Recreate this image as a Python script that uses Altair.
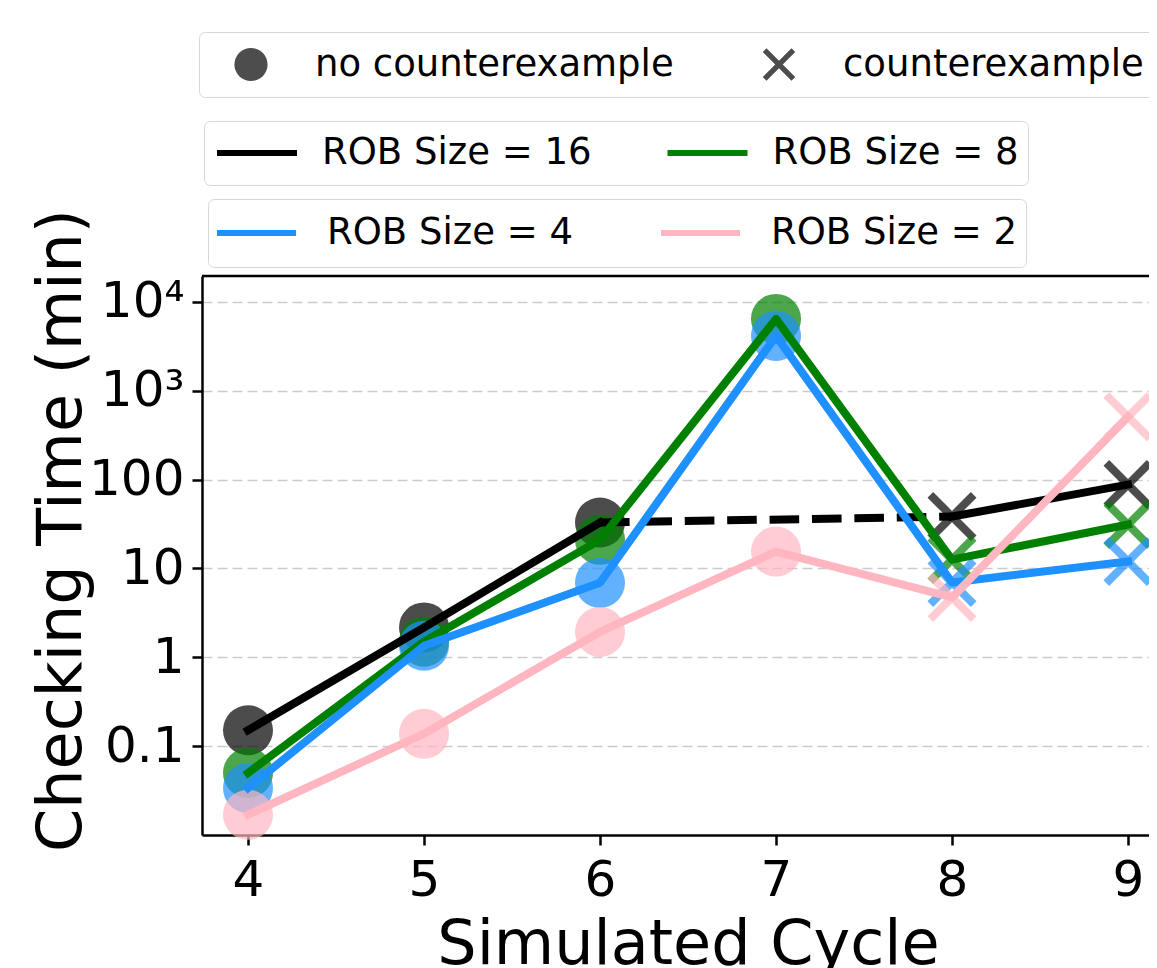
import altair as alt
import pandas as pd

# ---------------- data ----------------
cycles = [4, 5, 6, 7, 8, 9]
rob16 = [0.151, 2.17, 32.9, None, 38.4, 87.9]
rob8 = [0.050, 1.50, 21.0, 6440, 12.6, 31.2]
rob4 = [0.0337, 1.35, 6.9, 4150, 6.96, 12.0]
rob2 = [0.0169, 0.138, 1.93, 15.5, 4.72, 510]
outcome = ["no counterexample"] * 4 + ["counterexample"] * 2

rob_labels = ["ROB Size = 16", "ROB Size = 8", "ROB Size = 4", "ROB Size = 2"]
rob_colors = ["#000000", "#008000", "#1E90FF", "#FFB6C1"]
shape_labels = ["no counterexample", "counterexample"]
y_ticks = [0.1, 1, 10, 100, 1000, 10000]
x_ticks = [4, 5, 6, 7, 8, 9]

# ---------------- layout constants ----------------
W, H = 947, 559
FONT = "DejaVu Sans"
XPATH = ("M0.98,0.754L0.226,0L0.98,-0.754L0.754,-0.98L0,-0.226L-0.754,-0.98"
         "L-0.98,-0.754L-0.226,0L-0.98,0.754L-0.754,0.98L0,0.226L0.754,0.98Z")

series = list(zip(rob_labels, rob_colors, [rob16, rob8, rob4, rob2]))

# points table (drawn in order 16, 8, 4, 2)
prow = []
for lab, col, vals in series:
    for x, v, o in zip(cycles, vals, outcome):
        if v is not None:
            prow.append({"x": x, "y": v, "outcome": o, "pcolor": col, "rob": lab})
pts_df = pd.DataFrame(prow)


def line_df(lab, vals):
    rows = []
    for x, v in zip(cycles, vals):
        if v is not None:
            rows.append({"x": x, "y": v, "rob": lab, "seg": "a" if x <= 6 else "b"})
    return pd.DataFrame(rows)


df16 = line_df(rob_labels[0], rob16)
df8 = line_df(rob_labels[1], rob8)
df4 = line_df(rob_labels[2], rob4)
df2 = line_df(rob_labels[3], rob2)
dash_df = pd.DataFrame({"x": [6, 8], "y": [rob16[2], rob16[4]]})

# ---------------- scales / axes ----------------
xscale = alt.Scale(domain=[3.7386, 9.1193], nice=False, zero=False)
yscale = alt.Scale(type="log", domain=[0.01, 19590], nice=False)

axis_common = dict(
    labelFont=FONT, titleFont=FONT, labelFontSize=50, titleFontSize=62,
    titleFontWeight="normal", labelColor="black", titleColor="black",
    domainColor="black", domainWidth=2.5, tickColor="black", tickWidth=2.5,
    tickSize=10, titleAlign="center", titleBaseline="alphabetic",
    labelOverlap=False, labelFlush=False,
)
xaxis = alt.Axis(values=x_ticks, format="d", title="Simulated Cycle", grid=False,
                 labelPadding=10, titleX=486, titleY=128, **axis_common)
yaxis = alt.Axis(
    values=y_ticks,
    labelExpr="datum.value >= 5000 ? '10\u2074' : datum.value >= 500 ? '10\u00b3' : "
              "datum.value < 0.5 ? '0.1' : format(datum.value, 'd')",
    title="Checking Time (min)", grid=True, gridDash=[10, 5], gridColor="#cccccc",
    gridWidth=1.5, labelPadding=8, titleX=-122, titleY=254, titleAngle=270,
    **axis_common)

X = alt.X("x:Q", scale=xscale, axis=xaxis)
Y = alt.Y("y:Q", scale=yscale, axis=yaxis)

legend_common = dict(
    title=None, orient="none", direction="horizontal", labelFont=FONT,
    labelFontSize=37, labelColor="black", labelLimit=1000, fillColor="white",
    strokeColor="#d6d6d6", cornerRadius=6,
)
shape_legend = alt.Legend(legendX=-3, legendY=-244, padding=11, clipHeight=43,
                          symbolSize=1100, symbolOffset=22.5, labelOffset=45.5,
                          columnPadding=64, symbolFillColor="#4d4d4d",
                          symbolStrokeWidth=0, symbolOpacity=1, **legend_common)
legendA = alt.Legend(legendX=2, legendY=-155, padding=9, clipHeight=46,
                     symbolType="stroke", symbolSize=6400, symbolStrokeWidth=6,
                     symbolOffset=1, labelOffset=22, columnPadding=71.5,
                     **legend_common)
legendB = alt.Legend(legendX=6, legendY=-77, padding=9, clipHeight=50,
                     symbolType="stroke", symbolSize=6400, symbolStrokeWidth=6,
                     symbolOffset=-4, labelOffset=28, columnPadding=88,
                     **legend_common)

colorA = alt.Scale(domain=rob_labels[:2], range=rob_colors[:2])
strokeB = alt.Scale(domain=rob_labels[2:], range=rob_colors[2:])

# ---------------- layers ----------------
pts = alt.Chart(pts_df).mark_point(filled=True, fillOpacity=0.7, size=2500,
                                   strokeWidth=0).encode(
    x=X, y=Y,
    shape=alt.Shape("outcome:N", scale=alt.Scale(domain=shape_labels,
                                                 range=["circle", XPATH]),
                    legend=shape_legend),
    fill=alt.Fill("pcolor:N", scale=None),
)

line_style = dict(strokeWidth=8, strokeJoin="round", strokeCap="square")

l16 = alt.Chart(df16).mark_line(**line_style).encode(
    x=X, y=Y, color=alt.Color("rob:N", scale=colorA, legend=legendA),
    detail="seg:N")
ldash = alt.Chart(dash_df).mark_line(strokeWidth=8, strokeDash=[29.6, 12.8],
                                     strokeCap="butt", color="black").encode(x=X, y=Y)
l8 = alt.Chart(df8).mark_line(**line_style).encode(
    x=X, y=Y, color=alt.Color("rob:N", scale=colorA, legend=legendA))
l4 = alt.Chart(df4).mark_line(**line_style).encode(
    x=X, y=Y, stroke=alt.Stroke("rob:N", scale=strokeB, legend=legendB))
l2 = alt.Chart(df2).mark_line(**line_style).encode(
    x=X, y=Y, stroke=alt.Stroke("rob:N", scale=strokeB, legend=legendB))

top = alt.Chart(pd.DataFrame({"k": [0]})).mark_rule(
    color="black", strokeWidth=2.5).encode(
    x=alt.value(0), x2=alt.value(W), y=alt.value(0))

chart = alt.layer(pts, l16, ldash, l8, l4, l2, top).properties(
    width=W, height=H,
    autosize=alt.AutoSizeParams(type="none"),
    padding={"left": 194, "top": 268, "right": 0, "bottom": 133},
).configure_view(stroke=None).configure(font=FONT)

chart.save("out.html", embed_options={"renderer": "svg", "actions": False})
